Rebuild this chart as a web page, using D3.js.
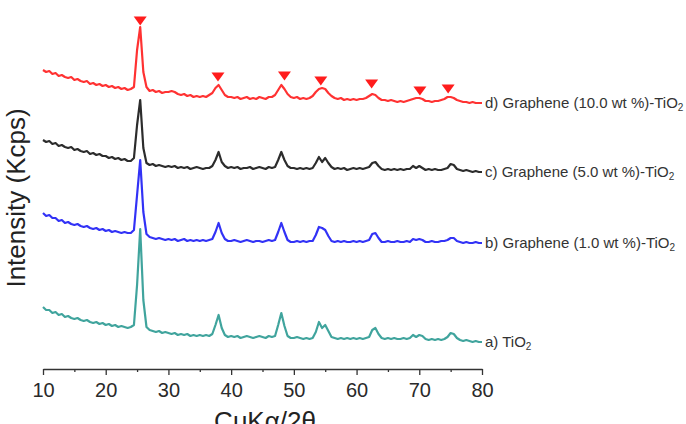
<!DOCTYPE html>
<html>
<head>
<meta charset="utf-8">
<script src="https://cdn.jsdelivr.net/npm/d3@7"></script>
<style>
  body { margin: 0; background: #fff; overflow: hidden; }
  text { font-family: "Liberation Sans", Arial, sans-serif; }
</style>
</head>
<body>
<div id="chart"></div>
<script>
// scan grid of the diffractometer, 10-80 deg, 0.5 deg step
var twoTheta = d3.range(0, 141).map(function(i) { return 10 + i * 0.5; });

// intensities (Kcps, offset as plotted), one row = 5 deg
var tio2 = [
  6.3,6.0,6.0,5.7,5.8,5.5,5.6,5.3,5.4,5.2,
  5.1,5.2,5.0,4.9,5.0,4.8,4.7,4.8,4.6,4.7,
  4.5,4.6,4.4,4.5,4.3,4.4,4.3,4.2,4.3,4.5,
  8.5,14.1,7.0,4.3,4.0,3.9,3.8,3.9,3.7,3.8,
  3.7,3.6,3.7,3.5,3.6,3.5,3.6,3.4,3.5,3.4,
  3.5,3.4,3.5,3.4,3.6,4.5,5.5,4.2,3.5,3.3,
  3.4,3.3,3.4,3.2,3.3,3.4,3.3,3.2,3.3,3.4,
  3.3,3.2,3.4,3.3,3.4,4.5,5.7,4.4,3.4,3.2,
  3.2,3.3,3.2,3.1,3.2,3.1,3.2,3.8,4.8,4.2,
  4.5,3.9,3.3,3.2,3.1,3.2,3.1,3.2,3.1,3.2,
  3.1,3.2,3.1,3.2,3.3,4.0,4.2,3.6,3.2,3.1,
  3.2,3.1,3.2,3.1,3.1,3.2,3.1,3.2,3.5,3.3,
  3.5,3.4,3.1,3.0,3.1,3.0,3.1,3.0,3.1,3.3,
  3.7,3.6,3.2,3.0,2.9,3.0,2.9,2.8,2.9,2.8,
  2.8
];

var graphene1 = [
  15.7,15.4,15.5,15.2,15.2,14.9,15.0,14.7,14.8,14.6,
  14.5,14.6,14.4,14.3,14.4,14.2,14.1,14.2,14.0,14.1,
  13.9,14.0,13.8,13.9,13.8,13.7,13.8,13.7,13.7,14.0,
  17.5,21.0,15.8,13.6,13.3,13.2,13.1,13.2,13.1,13.0,
  13.1,13.0,13.1,12.9,13.0,13.1,12.9,13.0,12.9,13.0,
  12.9,13.0,12.9,13.0,13.1,13.8,14.7,13.7,13.1,12.9,
  12.9,13.0,12.9,12.8,12.9,13.0,12.9,12.8,12.9,12.9,
  12.8,12.9,13.0,12.9,13.0,13.8,14.7,13.8,13.0,12.8,
  12.8,12.9,12.8,12.9,12.8,12.9,12.9,13.5,14.3,14.2,
  14.0,13.4,12.9,12.8,12.9,12.8,12.9,12.8,12.8,12.9,
  12.8,12.9,12.8,12.9,13.0,13.6,13.7,13.2,12.8,12.8,
  12.9,12.8,12.8,12.9,12.8,12.8,12.9,12.8,13.1,13.0,
  13.1,13.0,12.8,12.8,12.9,12.8,12.8,12.9,12.9,13.0,
  13.2,13.2,12.9,12.8,12.7,12.8,12.7,12.7,12.8,12.7,
  12.7
];

var graphene5 = [
  23.0,22.8,22.9,22.6,22.7,22.4,22.5,22.3,22.2,22.3,
  22.0,22.1,21.9,21.8,21.9,21.6,21.7,21.5,21.6,21.4,
  21.4,21.2,21.3,21.1,21.2,21.0,21.1,20.9,20.9,21.2,
  24.5,27.0,22.2,20.7,20.5,20.6,20.4,20.5,20.4,20.3,
  20.4,20.3,20.4,20.2,20.3,20.2,20.3,20.1,20.2,20.3,
  20.2,20.1,20.2,20.2,20.4,21.0,21.8,20.8,20.4,20.2,
  20.3,20.2,20.3,20.1,20.2,20.2,20.3,20.1,20.2,20.3,
  20.2,20.1,20.3,20.2,20.3,21.0,21.8,21.0,20.4,20.2,
  20.2,20.1,20.2,20.1,20.2,20.1,20.2,20.7,21.3,20.8,
  21.2,20.7,20.3,20.1,20.2,20.1,20.2,20.0,20.1,20.2,
  20.1,20.2,20.1,20.2,20.3,20.7,20.8,20.4,20.1,20.0,
  20.1,20.0,20.1,20.0,20.1,20.0,20.1,20.1,20.4,20.2,
  20.4,20.2,20.0,20.1,20.0,20.1,20.0,20.0,20.1,20.2,
  20.6,20.5,20.1,20.0,19.9,20.0,19.9,19.8,19.9,19.8,
  19.8
];

var graphene10 = [
  30.0,29.8,29.9,29.6,29.7,29.4,29.5,29.3,29.2,29.3,
  29.0,29.1,28.9,28.8,28.9,28.6,28.7,28.5,28.6,28.4,
  28.5,28.3,28.4,28.2,28.3,28.1,28.2,28.0,28.1,28.3,
  32.0,34.3,29.8,28.3,27.9,28.0,27.8,27.9,27.7,27.8,
  27.8,27.9,27.8,27.6,27.5,27.6,27.4,27.5,27.3,27.4,
  27.3,27.4,27.3,27.5,27.7,28.2,28.5,28.0,27.5,27.3,
  27.3,27.2,27.3,27.1,27.2,27.3,27.1,27.2,27.1,27.3,
  27.2,27.1,27.3,27.3,27.5,28.0,28.5,28.1,27.6,27.3,
  27.2,27.3,27.1,27.2,27.1,27.2,27.4,27.8,28.1,28.2,
  28.1,27.7,27.4,27.2,27.1,27.2,27.0,27.1,27.0,27.1,
  27.0,27.1,27.1,27.2,27.4,27.6,27.5,27.2,27.0,27.0,
  26.9,27.0,26.9,26.8,26.9,26.8,26.9,27.0,27.1,27.2,
  27.2,27.1,26.9,26.9,26.8,26.9,26.9,27.0,27.1,27.3,
  27.3,27.2,27.0,26.9,26.8,26.8,26.7,26.8,26.7,26.7,
  26.7
];

var seriesLabels = ["a) TiO", "b) Graphene (1.0 wt %)-TiO", "c) Graphene (5.0 wt %)-TiO", "d) Graphene (10.0 wt %)-TiO"];
var seriesColors = ["#2b9a92", "#1c1cf5", "#151515", "#ff1c1c"];

// anatase reflections marked on the top pattern
var markTheta = [25.5, 37.9, 48.5, 54.3, 62.4, 70.1, 74.6];
var markIntensity = [34.9, 29.3, 29.4, 28.9, 28.6, 27.9, 28.1];

var xTicks = [10, 20, 30, 40, 50, 60, 70, 80];
var xMinorTicks = [15, 25, 35, 45, 55, 65, 75];

var allSeries = [tio2, graphene1, graphene5, graphene10];

var margin = {top: 0, right: 204, bottom: 55, left: 43},
    width = 686 - margin.left - margin.right,
    height = 424 - margin.top - margin.bottom;

var svg = d3.select("#chart")
  .append("svg")
    .attr("width", 686)
    .attr("height", 424)
  .append("g")
    .attr("transform", "translate(" + margin.left + "," + margin.top + ")");

var x = d3.scaleLinear().domain([10, 80]).range([0, width]);
var y = d3.scaleLinear().domain([0, 37]).range([height + 1, 0]);

// minor ticks first, then main axis on top
svg.append("g")
  .attr("transform", "translate(0," + height + ")")
  .call(d3.axisBottom(x).tickValues(xMinorTicks).tickSize(3).tickSizeOuter(0).tickFormat(""))
  .call(function(g) { g.select(".domain").remove(); })
  .selectAll("line").attr("stroke", "#333").attr("stroke-width", 1.3);

var xAxis = svg.append("g")
  .attr("transform", "translate(0," + height + ")")
  .call(d3.axisBottom(x).tickValues(xTicks).tickSize(6).tickSizeOuter(0).tickPadding(8));
xAxis.select(".domain").attr("stroke", "#333").attr("stroke-width", 1.3);
xAxis.selectAll("line").attr("stroke", "#333").attr("stroke-width", 1.3);
xAxis.selectAll("text")
  .attr("fill", "#2a2a2a")
  .style("font-size", "20px")
  .style("font-family", "'Liberation Sans', Arial, sans-serif");

// axis titles (the x title sits partly below the frame, as in the figure)
svg.append("text")
  .attr("text-anchor", "middle")
  .attr("x", 222)
  .attr("y", 430)
  .attr("fill", "#222")
  .style("font-size", "26px")
  .text("CuKα/2θ");

svg.append("text")
  .attr("text-anchor", "middle")
  .attr("transform", "translate(" + (25 - margin.left) + ",198) rotate(-90)")
  .attr("fill", "#222")
  .style("font-size", "26px")
  .text("Intensity (Kcps)");

// patterns
var line = d3.line()
  .x(function(d, i) { return x(twoTheta[i]); })
  .y(function(d) { return y(d); });

svg.selectAll("pattern")
  .data(allSeries)
  .enter()
  .append("path")
    .attr("fill", "none")
    .attr("stroke", function(d, i) { return seriesColors[i]; })
    .attr("stroke-width", 2.2)
    .attr("stroke-linejoin", "round")
    .attr("stroke-opacity", 0.9)
    .attr("d", line);

// labels at the end of each pattern
var labels = svg.selectAll("seriesLabel")
  .data(allSeries)
  .enter()
  .append("text")
    .attr("x", x(80) + 3)
    .attr("y", function(d) { return y(d[d.length - 1]); })
    .attr("dy", "0.36em")
    .attr("fill", "#333")
    .style("font-size", "15px")
    .text(function(d, i) { return seriesLabels[i]; });
labels.append("tspan")
  .attr("dy", "0.3em")
  .style("font-size", "10px")
  .text("2");

// downward triangles
svg.selectAll("peakMark")
  .data(markTheta)
  .enter()
  .append("path")
    .attr("transform", function(d, i) { return "translate(" + x(d) + "," + y(markIntensity[i]) + ")"; })
    .attr("d", "M-6.5,-4.5L6.5,-4.5L0,4.5Z")
    .attr("fill", "#ff1c1c");
</script>
</body>
</html>
